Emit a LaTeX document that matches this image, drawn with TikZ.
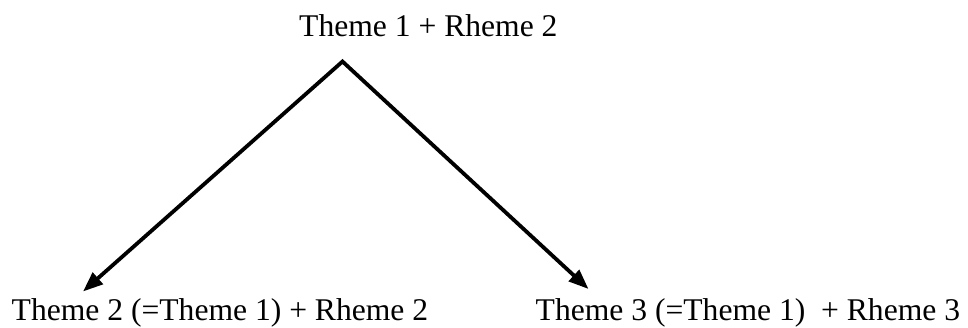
\documentclass[tikz,border=0pt]{standalone}
\usepackage{fontspec}
\setmainfont{Liberation Serif}
\usetikzlibrary{arrows.meta}
\begin{document}
\begin{tikzpicture}[x=1pt,y=-1pt,
  lbl/.style={anchor=base west,inner sep=0pt,font=\fontsize{31.6}{38}\selectfont},
  conn/.style={line width=3.8pt,line join=miter,{Triangle[length=20pt,width=15pt]}-{Triangle[length=20pt,width=15pt]}}]
\useasboundingbox (0,0) rectangle (968,327);
\node[lbl] (top) at (299,36.7) {Theme 1 + Rheme 2};
\node[lbl] (left) at (11.5,320.5) {Theme 2 (=Theme 1) + Rheme 2};
\node[lbl] (right) at (535.5,320.5) {Theme 3 (=Theme 1) \ + Rheme 3};
\coordinate (apex) at (342.5,61.5);
\coordinate (ltip) at (83,291.5);
\coordinate (rtip) at (588.5,289);
\draw[conn] (ltip) -- (apex) -- (rtip);
\end{tikzpicture}
\end{document}
